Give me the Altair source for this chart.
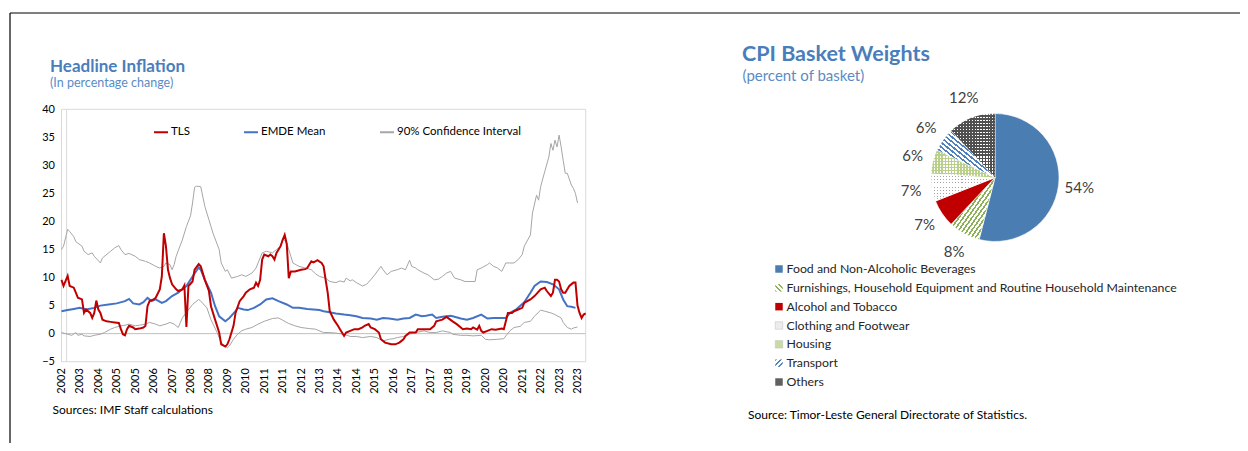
import json
import math
import altair as alt
import pandas as pd

# ---------------- Headline inflation (monthly index, value) ----------------
X_LABELS = ["2002", "2003", "2004", "2005", "2005", "2006", "2007", "2008", "2008",
            "2009", "2010", "2011", "2011", "2012", "2013", "2014", "2014", "2015",
            "2016", "2017", "2017", "2018", "2019", "2020", "2020", "2021", "2022",
            "2023", "2023"]
Y_TICKS = [-5, 0, 5, 10, 15, 20, 25, 30, 35, 40]
SERIES = ["TLS", "EMDE Mean", "90% Confidence Interval"]

TLS = [(0, 9.6), (1, 8.5), (3, 10.3), (4, 8.5), (6, 8.2), (7, 7.3), (8, 6.4), (10, 6.1), (11, 3.7),
       (12, 4.3), (14, 3.7), (15, 2.8), (16, 3.7), (17, 5.9), (18, 4.3), (19, 3.7), (20, 2.5),
       (22, 2.2), (24, 2.1), (26, 2.0), (28, 1.9), (29, 0.8), (30, -0.1), (31, -0.3), (32, 0.8),
       (33, 1.4), (35, 1.1), (36, 0.8), (38, 0.9), (40, 1.1), (41, 1.4), (42, 4.9), (43, 5.8),
       (45, 6.1), (46, 6.4), (48, 7.9), (49, 10.2), (50, 17.9), (51, 15.6), (52, 11.4), (53, 9.9),
       (54, 8.8), (56, 7.9), (57, 7.6), (59, 7.9), (60, 8.6), (61, 1.2), (62, 8.5), (64, 9.3),
       (65, 11.4), (67, 12.4), (68, 12.0), (70, 9.6), (72, 7.6), (73, 4.9), (75, 2.5), (77, 0.2),
       (78, -1.9), (80, -2.3), (81, -1.9), (82, -1.0), (84, 1.4), (85, 3.7), (87, 5.8), (89, 6.7),
       (90, 7.3), (92, 7.9), (94, 8.2), (95, 9.1), (96, 8.5), (97, 9.6), (98, 13.2), (99, 14.1),
       (101, 13.8), (102, 14.1), (103, 13.8), (104, 13.2), (105, 14.4), (107, 15.6), (108, 16.7),
       (109, 17.6), (110, 16.0), (111, 9.9), (112, 11.1), (114, 11.1), (117, 11.4), (119, 11.5),
       (120, 11.7), (122, 12.9), (123, 12.7), (124, 12.9), (125, 13.1), (127, 12.6), (128, 12.0),
       (129, 9.6), (130, 7.3), (131, 4.0), (133, 2.5), (135, 1.4), (136, 0.8), (138, -0.4),
       (139, 0.2), (141, 0.5), (143, 0.8), (145, 0.8), (147, 1.1), (148, 1.4), (150, 1.7),
       (151, 1.1), (153, 0.8), (155, 0.2), (156, -1.0), (158, -1.6), (161, -1.9), (163, -1.9),
       (165, -1.6), (167, -1.0), (168, -0.4), (170, 0.2), (173, 0.2), (174, 0.8), (177, 0.8),
       (180, 0.8), (182, 1.4), (183, 2.2), (186, 2.5), (188, 3.0), (191, 2.2), (193, 1.7),
       (195, 1.1), (196, 0.8), (198, 0.9), (200, 0.8), (201, 1.1), (203, 0.7), (204, 1.4),
       (205, 0.5), (206, 0.2), (208, 0.5), (210, 0.8), (212, 0.7), (215, 0.9), (216, 0.8),
       (217, 2.2), (218, 3.7), (220, 3.7), (221, 4.0), (223, 4.3), (225, 4.6), (226, 5.5),
       (229, 6.1), (231, 6.7), (234, 7.9), (236, 8.2), (237, 7.6), (239, 6.7), (240, 7.3),
       (241, 9.6), (242, 9.6), (243, 9.3), (244, 7.9), (245, 7.3), (246, 7.3), (248, 8.5),
       (250, 9.1), (251, 9.1), (252, 5.0), (253, 3.7), (254, 2.8), (255, 3.4), (256, 3.6)]

EMDE = [(0, 4.0), (3, 4.2), (6, 4.4), (9, 4.6), (12, 4.3), (16, 4.6), (19, 5.0), (23, 5.2),
        (27, 5.4), (31, 5.8), (33, 6.2), (35, 5.4), (38, 5.2), (40, 5.6), (42, 6.4), (44, 5.8),
        (46, 6.1), (49, 5.5), (51, 5.8), (54, 6.7), (57, 7.3), (59, 7.9), (61, 8.5), (64, 10.2),
        (67, 11.8), (68, 11.4), (70, 9.6), (73, 7.3), (75, 4.9), (77, 3.1), (80, 2.2), (82, 2.8),
        (85, 4.0), (86, 4.6), (89, 4.3), (91, 4.2), (94, 4.6), (97, 5.2), (100, 6.1), (103, 6.3),
        (106, 5.8), (110, 5.2), (113, 4.6), (116, 4.6), (120, 4.4), (123, 4.3), (126, 4.2),
        (128, 4.0), (131, 3.8), (134, 3.6), (138, 3.4), (141, 3.3), (144, 3.1), (147, 2.8),
        (151, 2.7), (154, 2.5), (157, 2.8), (160, 2.7), (164, 2.5), (167, 2.7), (170, 2.8),
        (173, 3.4), (176, 3.1), (178, 3.2), (181, 3.4), (183, 2.8), (186, 3.0), (190, 3.2),
        (191, 3.1), (195, 2.7), (198, 2.5), (201, 2.8), (205, 3.4), (208, 2.7), (211, 2.8),
        (214, 2.8), (217, 2.8), (219, 3.7), (222, 4.3), (226, 5.6), (229, 7.3), (231, 8.5),
        (234, 9.3), (237, 9.2), (240, 8.8), (243, 7.9), (245, 6.1), (247, 4.9), (249, 4.8),
        (251, 4.6)]

CI_UPPER = [(0, 15.0), (1, 15.6), (3, 18.6), (4, 18.2), (6, 17.3), (7, 16.4), (10, 15.6), (11, 14.7),
            (13, 14.1), (15, 14.4), (16, 13.8), (19, 12.6), (20, 13.5), (23, 14.4), (24, 14.7),
            (26, 15.3), (28, 15.7), (29, 15.0), (31, 14.1), (33, 14.3), (36, 13.8), (38, 13.2),
            (41, 12.9), (43, 12.6), (46, 12.0), (48, 11.7), (50, 12.0), (51, 12.6), (53, 12.3),
            (54, 11.4), (55, 12.3), (56, 13.8), (59, 16.7), (61, 19.1), (63, 21.0), (64, 23.3),
            (65, 26.1), (66, 26.3), (68, 26.2), (70, 22.7), (72, 20.3), (74, 17.9), (77, 15.0),
            (78, 12.6), (80, 11.1), (81, 11.4), (83, 9.9), (86, 10.2), (88, 10.5), (90, 10.2),
            (93, 10.8), (95, 11.7), (98, 14.4), (100, 14.7), (103, 14.4), (105, 15.0), (107, 15.6),
            (108, 17.0), (110, 16.2), (112, 13.8), (113, 12.6), (116, 12.0), (119, 11.7),
            (122, 11.4), (124, 10.7), (126, 10.2), (129, 9.9), (131, 9.3), (134, 9.1), (136, 9.4),
            (138, 9.2), (139, 9.9), (141, 9.4), (142, 9.6), (144, 9.1), (147, 8.5), (149, 8.8),
            (151, 9.6), (153, 10.5), (156, 12.0), (157, 11.4), (159, 10.5), (161, 11.1),
            (164, 11.4), (166, 11.7), (168, 11.4), (170, 13.1), (171, 12.0), (173, 11.7),
            (174, 11.4), (177, 10.8), (179, 10.5), (182, 9.6), (184, 9.7), (186, 10.2), (188, 10.8),
            (190, 11.1), (192, 9.9), (195, 9.6), (197, 9.3), (199, 9.3), (202, 9.3), (203, 11.4),
            (205, 11.7), (208, 12.3), (209, 12.6), (211, 12.0), (213, 11.7), (215, 11.1),
            (217, 12.6), (219, 12.6), (221, 12.6), (223, 13.2), (225, 14.1), (226, 15.6),
            (229, 17.6), (230, 21.5), (232, 24.7), (233, 23.8), (234, 26.2), (236, 28.9),
            (238, 31.5), (239, 33.9), (240, 32.7), (241, 34.5), (242, 33.3), (243, 35.4),
            (244, 33.3), (245, 30.9), (246, 28.6), (247, 28.6), (249, 26.5), (250, 25.9),
            (251, 25.0), (252, 23.3)]

CI_LOWER = [(0, 0.2), (3, -0.1), (5, -0.3), (7, 0.2), (8, -0.3), (10, -0.1), (11, -0.4), (14, -0.5),
            (16, -0.3), (19, -0.1), (21, 0.2), (24, 0.8), (26, 1.1), (29, 1.4), (31, 1.5), (33, 1.7),
            (36, 1.4), (38, 1.5), (41, 1.7), (43, 2.0), (46, 1.7), (48, 1.4), (51, 1.7), (53, 2.0),
            (55, 1.7), (57, 1.1), (59, 2.8), (61, 3.8), (64, 5.2), (67, 6.1), (68, 5.8), (71, 4.6),
            (73, 2.5), (76, 0.2), (78, -1.6), (81, -2.5), (82, -2.2), (84, -1.0), (86, -0.1),
            (88, 0.5), (90, 0.8), (93, 1.1), (96, 1.7), (99, 2.2), (103, 2.7), (106, 2.8),
            (108, 2.4), (111, 1.8), (114, 1.4), (117, 1.1), (121, 0.9), (124, 0.8), (128, 0.2),
            (131, 0.2), (134, 0.1), (138, -0.1), (141, -0.5), (144, -0.5), (147, -0.7), (151, -0.5),
            (154, -0.7), (157, -1.3), (160, -1.0), (162, -0.9), (164, -0.7), (167, -0.5),
            (170, -0.1), (173, 0.2), (177, 0.5), (180, 0.2), (183, 0.2), (186, 0.5), (190, 0.2),
            (191, -0.1), (195, -0.3), (198, -0.3), (201, -0.4), (205, -0.3), (207, -1.0),
            (209, -1.1), (213, -1.0), (216, -0.9), (217, -0.4), (219, 0.5), (221, 1.1), (224, 1.3),
            (226, 2.0), (229, 2.2), (231, 3.1), (234, 4.2), (236, 4.0), (239, 3.7), (241, 3.4),
            (244, 2.8), (245, 2.0), (247, 1.1), (249, 0.8), (250, 1.0), (252, 1.2)]

# ---------------- CPI basket weights ----------------
CATS = ["Food and Non-Alcoholic Beverages",
        "Furnishings, Household Equipment and Routine Household Maintenance",
        "Alcohol and Tobacco", "Clothing and Footwear", "Housing", "Transport", "Others"]
WEIGHTS = [54, 8, 7, 7, 6, 6, 12]

# ---------------- layout / style ----------------
W, H = 1232, 435
OFF = 8
X_RANGE = [61.5 - OFF, 585.7 - OFF]
Y_RANGE = [361.7 - OFF, 109.3 - OFF]
PIE_X, PIE_Y, PIE_R = 995 - OFF, 177.5 - OFF, 64
FONT = "Lato"
TITLE_BLUE = "#4A7EBB"
SUB_BLUE = "#5B8BC6"
TRANSP = "rgba(255,255,255,0)"


def stripes(c1, c2, n, frac, vec):
    stops = []
    for i in range(n):
        a, b, c = i / n, (i + frac) / n, (i + 1) / n
        stops += [{"offset": a, "color": c1}, {"offset": b, "color": c1},
                  {"offset": b, "color": c2}, {"offset": c, "color": c2}]
    x1, y1, x2, y2 = vec
    return {"gradient": "linear", "stops": stops, "x1": x1, "y1": y1, "x2": x2, "y2": y2}


DOWN = (0, 1, 1, 0)   # "\\" stripes
UP = (0, 0, 1, 1)     # "//" stripes
VERT = (0, 0, 1, 0)
HORI = (0, 0, 0, 1)

PIE_STYLE = {
    CATS[0]: dict(base="#4A7DB1", legend="#4A7DB1"),
    CATS[1]: dict(base=stripes("#8DB255", "#FFFFFF", 20, 0.45, UP),
                  legend=stripes("#8DB255", "#FFFFFF", 3, 0.45, DOWN)),
    CATS[2]: dict(base="#C00000", legend="#C00000"),
    CATS[3]: dict(base=stripes("#A6A6A6", "#FFFFFF", 21, 0.35, VERT),
                  over=stripes(TRANSP, "#FFFFFF", 10, 0.35, HORI), legend="#ECECEC"),
    CATS[4]: dict(base=stripes("#FFFFFF", "#B9CF8A", 21, 0.4, VERT),
                  over=stripes(TRANSP, "#B9CF8A", 9, 0.4, HORI), legend="#C9DBA5"),
    CATS[5]: dict(base=stripes("#4F81BD", "#FFFFFF", 20, 0.45, DOWN),
                  legend=stripes("#4F81BD", "#FFFFFF", 3, 0.45, UP)),
    CATS[6]: dict(base=stripes("#FFFFFF", "#505050", 15, 0.45, VERT),
                  over=stripes(TRANSP, "#505050", 21, 0.45, HORI), legend="#606060"),
}

# ---------------- data frames ----------------
tls_df = pd.DataFrame(TLS, columns=["m", "v"]).assign(series=SERIES[0], band="tls")
emde_df = pd.DataFrame(EMDE, columns=["m", "v"]).assign(series=SERIES[1], band="emde")
ci_df = pd.concat([
    pd.DataFrame(CI_UPPER, columns=["m", "v"]).assign(series=SERIES[2], band="upper"),
    pd.DataFrame(CI_LOWER, columns=["m", "v"]).assign(series=SERIES[2], band="lower"),
])
pie_df = pd.DataFrame({"cat": CATS, "w": WEIGHTS, "order": list(range(len(CATS)))})
pie_df["lab"] = [f"{w}%" for w in WEIGHTS]

xs = alt.Scale(domain=[0, 256], range=X_RANGE, nice=False, zero=False)
ys = alt.Scale(domain=[-5, 40], range=Y_RANGE, nice=False, zero=False)
cs = alt.Scale(domain=SERIES, range=["#C00000", "#4472C4", "#A6A6A6"])
leg = alt.Legend(orient="none", legendX=145, legendY=116, direction="horizontal", title=None,
                 symbolType="stroke", symbolSize=196, symbolStrokeWidth=2, labelFontSize=11.5,
                 labelColor="#000000", labelFont=FONT, columnPadding=50, labelOffset=2, padding=0)

x_axis = alt.Axis(orient="bottom", offset=Y_RANGE[0] - H, values=list(range(0, 253, 9)),
                  labelExpr=json.dumps(X_LABELS) + "[round(datum.value / 9)]",
                  labelAngle=-90, ticks=False, domain=False, grid=False, labelPadding=6,
                  labelFontSize=11, labelColor="#000000", labelFont=FONT, labelOverlap=False,
                  labelBound=False, labelFlush=False, title=None)
y_axis = alt.Axis(orient="left", offset=-X_RANGE[0], values=Y_TICKS, ticks=False, domain=False,
                  grid=False, labelPadding=7, labelFontSize=11, labelColor="#000000",
                  labelFont=FONT, title=None)


def line_layer(df, width, axes=False):
    return alt.Chart(df).mark_line(strokeWidth=width).encode(
        x=alt.X("m:Q", scale=xs, axis=x_axis if axes else None),
        y=alt.Y("v:Q", scale=ys, axis=y_axis if axes else None),
        color=alt.Color("series:N", scale=cs, legend=leg),
        detail="band:N",
    )


def text_layer(txt, x, y, size, weight="normal", color="#000000", baseline="middle"):
    return alt.Chart(pd.DataFrame({"t": [txt]})).mark_text(
        align="left", baseline=baseline, fontSize=size, fontWeight=weight, color=color, font=FONT
    ).encode(text="t:N", x=alt.value(x), y=alt.value(y))


layers = []

# frame lines
frame_df = pd.DataFrame({"k": [0]})
layers.append(alt.Chart(frame_df).mark_rule(color="#000000", strokeWidth=1.2).encode(
    x=alt.value(2), x2=alt.value(W), y=alt.value(5)))
layers.append(alt.Chart(frame_df).mark_rule(color="#000000", strokeWidth=1.2).encode(
    x=alt.value(2), y=alt.value(5), y2=alt.value(H)))

# plot border, zero line and category-axis line
layers.append(alt.Chart(frame_df).mark_rect(fillOpacity=0, stroke="#D9D9D9", strokeWidth=1).encode(
    x=alt.XDatum(0, type="quantitative", scale=xs, axis=None), x2=alt.X2Datum(256),
    y=alt.YDatum(-5, type="quantitative", scale=ys, axis=None), y2=alt.Y2Datum(40)))
layers.append(alt.Chart(frame_df).mark_rule(color="#D9D9D9", strokeWidth=1).encode(
    x=alt.XDatum(2.5, type="quantitative", scale=xs, axis=None),
    y=alt.YDatum(-5, type="quantitative", scale=ys, axis=None), y2=alt.Y2Datum(40)))
layers.append(alt.Chart(frame_df).mark_rule(color="#BFBFBF", strokeWidth=1).encode(
    x=alt.XDatum(0, type="quantitative", scale=xs, axis=None), x2=alt.X2Datum(256),
    y=alt.YDatum(0, type="quantitative", scale=ys, axis=None)))

# lines
layers.append(line_layer(ci_df, 1, axes=True))
layers.append(line_layer(emde_df, 2))
layers.append(line_layer(tls_df, 2))

# pie
theta_scale = alt.Scale(domain=[0, 100], range=[0, 2 * math.pi])
pie_base = alt.Chart(pie_df).transform_window(
    end="sum(w)", sort=[alt.SortField("order")], frame=[None, 0]
).transform_calculate(start="datum.end - datum.w", mid="datum.end - datum.w / 2")

for cat in CATS:
    st = PIE_STYLE[cat]
    sel = pie_base.transform_filter(alt.datum.cat == cat)
    enc = dict(theta=alt.Theta("start:Q", scale=theta_scale, stack=None), theta2="end:Q",
               x=alt.value(PIE_X), y=alt.value(PIE_Y))
    layers.append(sel.mark_arc(outerRadius=PIE_R, fill=st["base"], stroke="#FFFFFF",
                               strokeWidth=0.6).encode(**enc))
    if "over" in st:
        layers.append(sel.mark_arc(outerRadius=PIE_R, fill=st["over"]).encode(**enc))

layers.append(pie_base.mark_text(radius=85, fontSize=15, color="#404040", font=FONT).encode(
    theta=alt.Theta("mid:Q", scale=theta_scale, stack=None), text="lab:N",
    x=alt.value(PIE_X), y=alt.value(PIE_Y)))

# pie legend
leg_y = alt.Scale(type="point", domain=CATS, range=[269 - OFF, 382 - OFF], padding=0)
for cat in CATS:
    st = PIE_STYLE[cat]
    layers.append(alt.Chart(pie_df).transform_filter(alt.datum.cat == cat).mark_square(
        size=56, fill=st["legend"], fillOpacity=1, stroke="#BFBFBF" if cat in CATS[3:5] else None,
        strokeWidth=0.5).encode(
        x=alt.value(779 - OFF), y=alt.Y("cat:N", scale=leg_y, axis=None)))
layers.append(alt.Chart(pie_df).mark_text(align="left", baseline="middle", fontSize=12.3,
                                          color="#262626", font=FONT).encode(
    text="cat:N", x=alt.value(786.5 - OFF), y=alt.Y("cat:N", scale=leg_y, axis=None)))

# titles and sources
layers.append(text_layer("Headline Inflation", 50 - OFF, 71.5 - OFF, 17, "bold", TITLE_BLUE,
                         "alphabetic"))
layers.append(text_layer("(In percentage change)", 50 - OFF, 83.3 - OFF, 12.5, color=SUB_BLUE))
layers.append(text_layer("CPI Basket Weights", 742 - OFF, 60.5 - OFF, 21.5, "bold", TITLE_BLUE,
                         "alphabetic"))
layers.append(text_layer("(percent of basket)", 742.5 - OFF, 76 - OFF, 15, color=SUB_BLUE))
layers.append(text_layer("Sources: IMF Staff calculations", 52.5 - OFF, 410 - OFF, 12))
layers.append(text_layer("Source: Timor-Leste General Directorate of Statistics.", 748 - OFF,
                         415 - OFF, 12))

chart = alt.layer(*layers).resolve_scale(
    x="independent", y="independent"
).properties(
    width=W, height=H, autosize=alt.AutoSizeParams(type="none"),
    padding={"left": 0, "top": 0, "right": 0, "bottom": 0},
).configure(font=FONT).configure_view(stroke=None)

chart.save("out.html", embed_options={"renderer": "svg", "actions": False})
